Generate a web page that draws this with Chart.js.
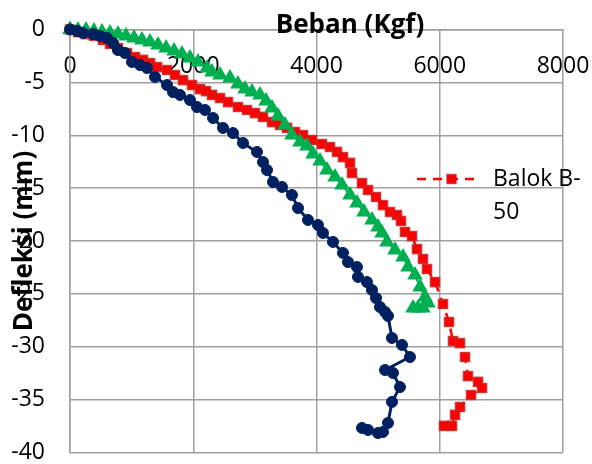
<!DOCTYPE html>
<html>
<head>
<meta charset="utf-8">
<script src="https://cdn.jsdelivr.net/npm/chart.js@4.4.1/dist/chart.umd.min.js"></script>
<style>
  html, body { margin: 0; padding: 0; background: #fff; }
  #wrap { width: 592px; height: 464px; }
</style>
</head>
<body>
<div id="wrap"><canvas id="myChart"></canvas></div>
<script>
// load (Kgf) and deflection (mm)
const bebanSeri1 = [0,114,211,373,487,600,698,779,892,1006,1136,1250,1379,1574,1671,1785,1947,2061,2191,2321,
  2483,2645,2807,3034,3132,3197,3294,3440,3602,3700,3862,4024,4105,4268,4430,4511,4657,4673,4819,4900,
  4966,5030,5112,5160,5225,5387,5517,5112,5241,5355,5225,5160,5079,4998,4836,4738];
const defleksiSeri1 = [0,-0.14,-0.33,-0.43,-0.61,-0.80,-1.28,-1.94,-2.22,-3.07,-3.36,-3.64,-4.49,-5.25,-5.91,-6.19,-6.67,-7.33,-7.61,-8.37,
  -9.31,-9.79,-10.73,-11.58,-12.53,-13.29,-14.42,-14.89,-15.65,-16.88,-18.01,-18.49,-19.24,-20.09,-21.13,-21.99,-22.46,-23.40,-23.88,-24.63,
  -25.39,-26.24,-26.71,-27.09,-29.17,-29.83,-30.97,-32.20,-32.48,-33.81,-35.22,-37.21,-38.06,-38.16,-37.87,-37.68];

const bebanSeri2 = [0,130,260,389,519,649,779,909,1039,1168,1298,1428,1558,1688,1817,1947,2077,2223,2304,2434,
  2596,2726,2840,2953,3083,3181,3278,3375,3489,3602,3732,3846,3943,4057,4170,4300,4414,4544,4657,4771,
  4901,4998,5063,5144,5274,5404,5485,5598,5680,5761,5809,5728,5647,5566];
const defleksiSeri2 = [0,-0.05,-0.05,-0.14,-0.24,-0.33,-0.43,-0.61,-0.80,-0.99,-1.18,-1.47,-1.75,-2.03,-2.32,-2.70,-3.07,-3.64,-4.02,-4.30,
  -4.59,-5.15,-5.63,-5.91,-6.19,-6.76,-7.42,-8.18,-9.03,-9.98,-10.64,-11.02,-11.77,-12.43,-13.29,-13.95,-14.70,-15.65,-16.41,-17.26,
  -18.01,-18.68,-19.24,-20.09,-20.85,-21.51,-22.46,-23.22,-24.35,-25.30,-25.86,-26.34,-26.34,-26.34];

const bebanB50 = [0,130,260,389,535,649,779,925,1055,1185,1298,1412,1574,1704,1834,1980,2110,2207,2304,2434,
  2564,2726,2872,3002,3132,3278,3408,3521,3651,3781,3927,4089,4219,4333,4430,4544,4576,4738,4836,4966,
  5079,5193,5306,5371,5436,5550,5631,5728,5793,5923,6053,6150,6215,6329,6410,6458,6621,6686,6507,6329,
  6248,6199,6069];
const defleksiB50 = [0,-0.24,-0.43,-0.61,-0.99,-1.37,-1.75,-2.22,-2.60,-2.88,-3.17,-3.55,-3.83,-4.30,-4.78,-5.25,-5.63,-5.82,-6.19,-6.48,
  -6.86,-7.33,-7.61,-7.90,-8.27,-8.75,-9.03,-9.31,-9.69,-9.98,-10.45,-10.83,-11.11,-11.58,-12.06,-12.62,-13.57,-14.52,-15.18,-15.84,
  -16.60,-17.26,-17.54,-18.11,-19.15,-19.53,-20.76,-21.70,-22.65,-23.88,-25.96,-27.66,-29.46,-29.65,-30.97,-32.77,-33.33,-33.90,-34.56,-35.70,
  -36.45,-37.49,-37.49];

const xTicks = [0, 2000, 4000, 6000, 8000];
const yTicks = [-40, -35, -30, -25, -20, -15, -10, -5, 0];
const judulX = "Beban (Kgf)";
const judulY = "Defleksi (mm)";
const legendLines = ["Balok B-", "50"];

function toPoints(xs, ys) {
  return xs.map((x, i) => ({ x: x, y: ys[i] }));
}

const tickFont = { family: "'Open Sans'", size: 23, lineHeight: 1 };
const gridColor = "#a0a0a0";

// no extra room for label overhang, the frame is set by layout padding
function noPad(s) {
  s.paddingTop = 0; s.paddingBottom = 0; s.paddingLeft = 0; s.paddingRight = 0;
}

// titles and the single legend entry sit over the plot, like the original
const overlayText = {
  id: "overlayText",
  afterDraw(chart) {
    const ctx = chart.ctx;
    const area = chart.chartArea;
    ctx.save();
    ctx.fillStyle = "#000";
    ctx.font = "bold 26px 'Open Sans'";
    ctx.textAlign = "center";
    ctx.textBaseline = "alphabetic";
    ctx.fillText(judulX, 350, 33);
    ctx.save();
    ctx.translate(32, (area.top + area.bottom) / 2);
    ctx.rotate(-Math.PI / 2);
    ctx.fillText(judulY, 0, 0);
    ctx.restore();

    // legend: dashed line + square marker
    const ds = chart.data.datasets[2];
    const ly = 179;
    ctx.strokeStyle = ds.borderColor;
    ctx.lineWidth = ds.borderWidth;
    ctx.setLineDash(ds.borderDash);
    ctx.beginPath();
    ctx.moveTo(417, ly);
    ctx.lineTo(474, ly);
    ctx.stroke();
    ctx.setLineDash([]);
    ctx.fillStyle = ds.pointBackgroundColor;
    ctx.strokeStyle = ds.pointBorderColor;
    ctx.lineWidth = ds.pointBorderWidth;
    ctx.fillRect(447, ly - 4.5, 9, 9);
    ctx.strokeRect(447, ly - 4.5, 9, 9);

    ctx.fillStyle = "#000";
    ctx.font = "23px 'Open Sans'";
    ctx.textAlign = "left";
    ctx.textBaseline = "middle";
    ctx.fillText(legendLines[0], 493, ly);
    ctx.fillText(legendLines[1], 493, ly + 33);
    ctx.restore();
  }
};

new Chart("myChart", {
  type: "scatter",
  data: {
    datasets: [
      {
        label: "Seri 1",
        data: toPoints(bebanSeri1, defleksiSeri1),
        showLine: true,
        borderColor: "#002060",
        borderWidth: 3,
        pointStyle: "circle",
        pointRadius: 5.5,
        pointBackgroundColor: "#002060",
        pointBorderColor: "#002060",
        pointBorderWidth: 1,
        clip: false,
      },
      {
        label: "Seri 2",
        data: toPoints(bebanSeri2, defleksiSeri2),
        showLine: true,
        borderColor: "#00b050",
        borderWidth: 2,
        pointStyle: "triangle",
        pointRadius: 9,
        pointBackgroundColor: "#00b050",
        pointBorderColor: "#00b050",
        pointBorderWidth: 0,
        clip: false,
      },
      {
        label: "Balok B-50",
        data: toPoints(bebanB50, defleksiB50),
        showLine: true,
        borderColor: "#ff0000",
        borderWidth: 2.5,
        borderDash: [9, 7],
        pointStyle: "rect",
        pointRadius: 6.5,
        pointBackgroundColor: "#ff0000",
        pointBorderColor: "rgba(190,40,40,0.75)",
        pointBorderWidth: 1.5,
        clip: false,
      },
    ],
  },
  options: {
    responsive: true,
    maintainAspectRatio: false,
    animation: false,
    layout: { padding: { left: 12, top: 29.5, right: 29, bottom: 11.5 } },
    plugins: {
      legend: { display: false },
      tooltip: { enabled: false },
    },
    scales: {
      x: {
        type: "linear",
        position: { y: 0 },
        min: xTicks[0],
        max: xTicks[xTicks.length - 1],
        afterBuildTicks: (s) => { s.ticks = xTicks.map((v) => ({ value: v })); },
        afterFit: (s) => { s.height = 0; noPad(s); },
        ticks: {
          font: tickFont,
          color: "#000",
          padding: 25,
          maxRotation: 0,
          callback: (v) => String(v),
        },
        grid: { color: gridColor, lineWidth: 1.5, drawTicks: false },
        border: { color: gridColor, width: 1.5 },
      },
      y: {
        type: "linear",
        position: "left",
        min: yTicks[0],
        max: yTicks[yTicks.length - 1],
        afterBuildTicks: (s) => { s.ticks = yTicks.map((v) => ({ value: v })); },
        afterFit: (s) => { s.width = 58; noPad(s); },
        ticks: {
          font: tickFont,
          color: "#000",
          padding: 25,
          callback: (v) => String(v),
        },
        grid: { color: gridColor, lineWidth: 1.5, drawTicks: false },
        border: { color: gridColor, width: 1.5 },
      },
    },
  },
  plugins: [overlayText],
});
</script>
</body>
</html>
